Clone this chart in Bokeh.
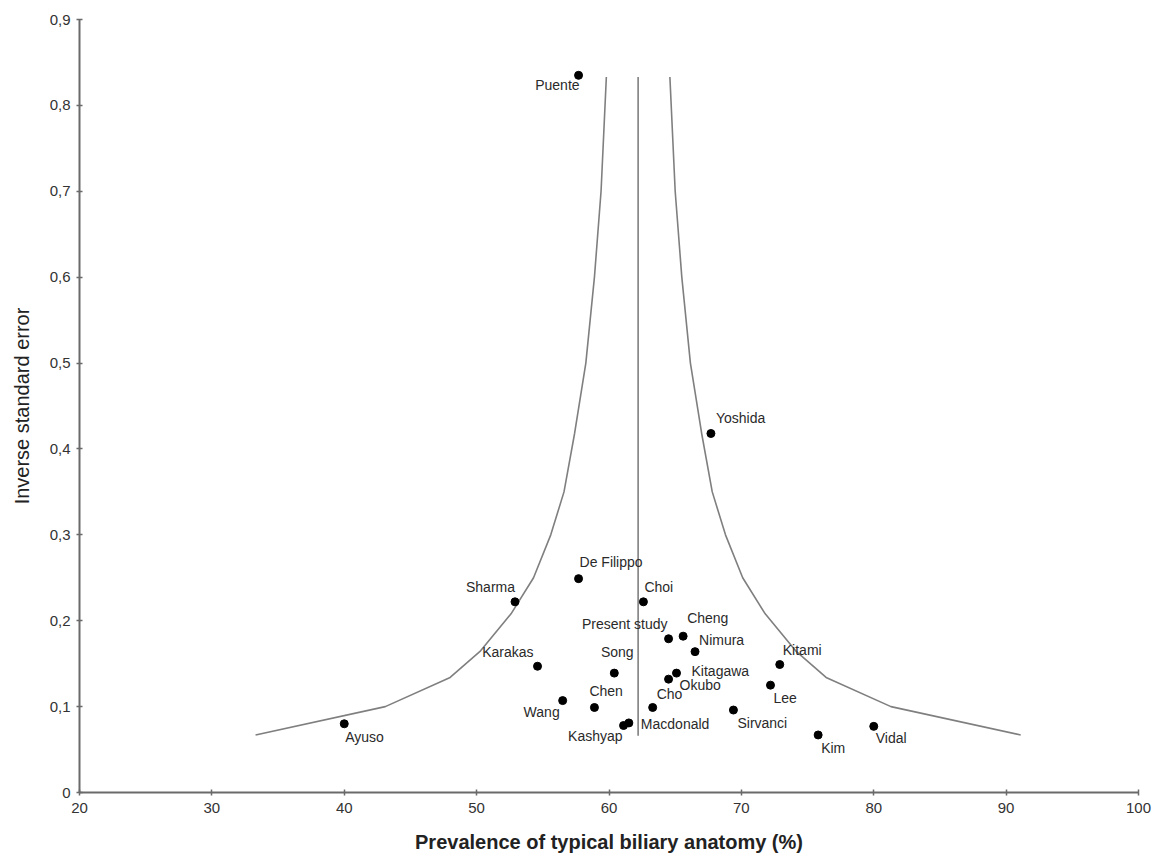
from bokeh.plotting import figure
from bokeh.models import Range1d, FixedTicker, ColumnDataSource
from bokeh.embed import file_html
from bokeh.resources import INLINE
from bokeh.core.properties import value

# ---- data ----
studies = ["Puente", "Yoshida", "De Filippo", "Sharma", "Choi", "Present study",
           "Cheng", "Nimura", "Kitagawa", "Okubo", "Karakas", "Song", "Wang",
           "Chen", "Cho", "Kashyap", "Macdonald", "Sirvanci", "Kitami", "Lee",
           "Kim", "Vidal", "Ayuso"]
prevalence = [57.7, 67.7, 57.7, 52.9, 62.6, 64.5,
              65.6, 66.5, 65.1, 64.5, 54.6, 60.4, 56.5,
              58.9, 63.3, 61.1, 61.5, 69.4, 72.9, 72.2,
              75.8, 80.0, 40.0]
inv_se = [0.835, 0.418, 0.249, 0.222, 0.222, 0.179,
          0.182, 0.164, 0.139, 0.132, 0.147, 0.139, 0.107,
          0.099, 0.099, 0.078, 0.081, 0.096, 0.149, 0.125,
          0.067, 0.077, 0.080]

pooled = 62.2
pooled_inv_se = [0.066, 0.833]

funnel_inv_se = [0.067, 0.100, 0.134, 0.165, 0.208, 0.250, 0.300, 0.350,
                 0.418, 0.500, 0.600, 0.700, 0.833]
funnel_lower = [33.3, 43.1, 48.0, 50.3, 52.6, 54.3, 55.6, 56.6,
                57.4, 58.25, 58.9, 59.4, 59.8]
funnel_upper = [91.1, 81.3, 76.4, 74.1, 71.8, 70.1, 68.8, 67.8,
                67.0, 66.15, 65.5, 65.0, 64.6]

x_ticks = [20, 30, 40, 50, 60, 70, 80, 90, 100]
y_ticks = [0, 0.1, 0.2, 0.3, 0.4, 0.5, 0.6, 0.7, 0.8, 0.9]
y_tick_labels = ["0", "0,1", "0,2", "0,3", "0,4", "0,5", "0,6", "0,7", "0,8", "0,9"]

# ---- label placement (screen pixels), style only ----
label_dx = [1, 5, 1, 0, 1, -1, 4, 4, 15, 11, -4, 3, -3, -5, 4, -1, 12, 4, 3, 3, 3, 2, 1]
label_dy = [10, -15, -17, -15, -15, -15, -18, -12, -2, 6, -14, -21, 11, -16, -13, 10, 1, 13, -15, 13, 13, 12, 13]
label_align = ["right", "left", "left", "right", "left", "right", "left", "left", "left",
               "left", "right", "center", "right", "left", "left", "right", "left", "left",
               "left", "left", "left", "left", "left"]

FONT = "Liberation Sans"

p = figure(width=1156, height=866, output_backend="svg", toolbar_location=None,
           x_range=Range1d(20, 100), y_range=Range1d(0, 0.9),
           min_border_left=79, min_border_right=18, min_border_top=19,
           min_border_bottom=74)
p.outline_line_color = None
p.xgrid.visible = False
p.ygrid.visible = False
p.background_fill_color = "white"
p.border_fill_color = "white"

# funnel limits
p.line(funnel_lower, funnel_inv_se, line_color="#7f7f7f", line_width=1.6)
p.line(funnel_upper, funnel_inv_se, line_color="#7f7f7f", line_width=1.6)
p.line([pooled, pooled], pooled_inv_se, line_color="#7f7f7f", line_width=1.6)

src = ColumnDataSource(dict(x=prevalence, y=inv_se, name=studies,
                            dx=label_dx, dy=label_dy, align=label_align))
p.scatter("x", "y", source=src, size=8, fill_color="black", line_color="black")
p.text("x", "y", text="name", source=src, x_offset="dx", y_offset="dy",
       text_align="align", text_baseline="middle", text_font=value(FONT),
       text_font_size="14px", text_color="#2a2a2a")

# axes
for ax in (p.xaxis, p.yaxis):
    ax.axis_line_color = "#6a6a6a"
    ax.axis_line_width = 2
    ax.major_tick_line_color = "#6a6a6a"
    ax.major_tick_line_width = 1.5
    ax.major_tick_in = 3
    ax.major_tick_out = 3
    ax.minor_tick_line_color = None
    ax.major_label_text_font = FONT
    ax.major_label_text_font_size = "15px"
    ax.major_label_text_color = "#333333"
    ax.axis_label_text_font = FONT
    ax.axis_label_text_color = "#222222"

p.xaxis.ticker = FixedTicker(ticks=x_ticks)
p.xaxis.major_label_standoff = 7
p.xaxis.axis_label = "Prevalence of typical biliary anatomy (%)"
p.xaxis.axis_label_text_font_style = "bold"
p.xaxis.axis_label_text_font_size = "20px"
p.xaxis.axis_label_standoff = 15

p.yaxis.ticker = FixedTicker(ticks=y_ticks)
p.yaxis.major_label_overrides = dict(zip(y_ticks, y_tick_labels))
p.yaxis.major_label_standoff = 6
p.yaxis.axis_label = "Inverse standard error"
p.yaxis.axis_label_text_font_style = "normal"
p.yaxis.axis_label_text_font_size = "20px"
p.yaxis.axis_label_standoff = 14

open("out.html", "w").write(file_html(p, INLINE))
